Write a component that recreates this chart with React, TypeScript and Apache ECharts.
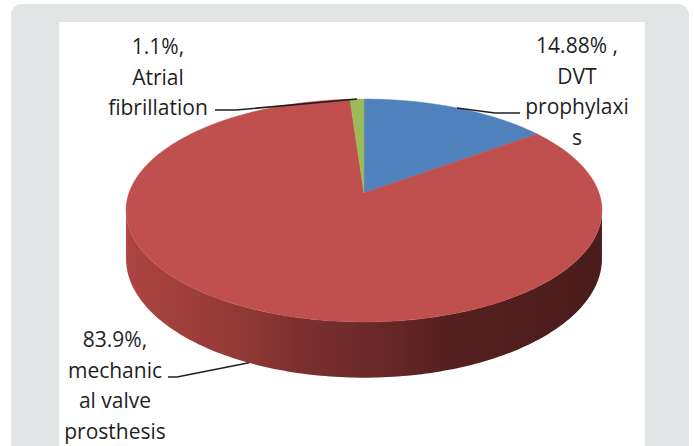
import React, { useEffect, useRef } from "react";
import * as echarts from "echarts";

// ---- data ----
const categories = ["DVT prophylaxis", "mechanical valve prosthesis", "Atrial fibrillation"];
const shares = [14.88, 83.9, 1.1];
const labelLines = [
  ["14.88% ,", "DVT", "prophylaxi", "s"],
  ["83.9%,", "mechanic", "al valve", "prosthesis"],
  ["1.1%,", "Atrial", "fibrillation"],
];

// ---- styles / layout ----
const topColors = ["#4f81bd", "#c0504d", "#9bbb59"];
const sideStops = [
  [[0, "#3a6596"], [1, "#22405f"]],
  [[0, "#ad4541"], [0.26, "#8e3835"], [0.365, "#7b302e"], [0.52, "#6b2929"], [0.68, "#561f1f"], [1, "#4a1c1c"]],
  [[0, "#7a9546"], [1, "#4d5e2c"]],
];
const labelLayout = [
  { x: 577, y: 30, stub: [[520, 113], [495, 113]] },
  { x: 115, y: 324, stub: [[168, 377], [177, 377]] },
  { x: 158, y: 31, stub: [[215, 110], [236, 110]] },
];
const PIE = { cx: 364, cy: 193, R: 235, Ry: 108.7, a: 0.157, H: 47 };
const FONT_FAMILY = "'Open Sans', sans-serif";

function proj(deg: number, depth: number) {
  const t = (deg * Math.PI) / 180;
  const u = Math.sin(t);
  const v = -Math.cos(t);
  const k = 1 / (1 - PIE.a * v);
  return [PIE.cx + PIE.R * u * k, PIE.cy + PIE.Ry * v * k + depth * k];
}

function arc(a0: number, a1: number, depth: number) {
  const pts: number[][] = [];
  const n = Math.max(2, Math.ceil(Math.abs(a1 - a0)));
  for (let j = 0; j <= n; j++) pts.push(proj(a0 + ((a1 - a0) * j) / n, depth));
  return pts;
}

export default function App() {
  const ref = useRef<HTMLDivElement>(null);
  useEffect(() => {
    if (!ref.current) return;
    const chart = echarts.init(ref.current, undefined, { renderer: "svg" });
    const total = shares.reduce((s, v) => s + v, 0);
    const visL = (Math.acos(-PIE.a) * 180) / Math.PI;
    const visR = 360 - visL;

    const renderItem = (params: any) => {
      const i = params.dataIndex;
      let start = 0;
      for (let j = 0; j < i; j++) start += (shares[j] / total) * 360;
      const end = start + (shares[i] / total) * 360;
      const children: any[] = [];
      const s0 = Math.max(start, visL);
      const s1 = Math.min(end, visR);
      if (s1 > s0) {
        const pts = arc(s0, s1, 0).concat(arc(s1, s0, PIE.H));
        children.push({
          type: "polygon",
          z2: 1,
          shape: { points: pts },
          style: {
            fill: new echarts.graphic.LinearGradient(
              126, 0, 602, 0,
              sideStops[i].map((s: any) => ({ offset: s[0], color: s[1] })),
              true
            ),
            stroke: null,
          },
        });
      }
      children.push({
        type: "polygon",
        z2: 2,
        shape: { points: [[PIE.cx, PIE.cy]].concat(arc(start, end, 0)) },
        style: { fill: topColors[i], stroke: topColors[i], lineWidth: 0.5 },
      });
      const mid = (start + end) / 2;
      const anchor = mid > visL && mid < visR ? proj(mid, PIE.H) : proj(mid, 0);
      const L = labelLayout[i];
      children.push({
        type: "polyline",
        z2: 3,
        shape: { points: [L.stub[0], L.stub[1], anchor] },
        style: { stroke: "#1f1f1f", lineWidth: 1.5, fill: null },
      });
      children.push({
        type: "text",
        z2: 4,
        style: {
          text: labelLines[i].join("\n"),
          x: L.x,
          y: L.y,
          align: "center",
          verticalAlign: "top",
          fontFamily: FONT_FAMILY,
          fontSize: 21,
          lineHeight: 30.5,
          fill: "#1f1f1f",
        },
      });
      return { type: "group", children };
    };

    chart.setOption({
      animation: false,
      graphic: [
        {
          type: "rect",
          z: -10,
          shape: { x: 11, y: 4, width: 678, height: 460, r: 11 },
          style: { fill: "#e1e5e6" },
        },
        {
          type: "rect",
          z: -9,
          shape: { x: 59, y: 22, width: 586, height: 440 },
          style: { fill: "#ffffff" },
        },
      ],
      series: [
        {
          type: "custom",
          coordinateSystem: "none",
          silent: true,
          data: shares.map((v, i) => ({ name: categories[i], value: v })),
          renderItem,
        },
      ],
    });
    return () => chart.dispose();
  }, []);
  return (
    <div
      ref={ref}
      style={{ position: "fixed", left: 0, top: 0, width: 694, height: 446, background: "#ffffff" }}
    />
  );
}
